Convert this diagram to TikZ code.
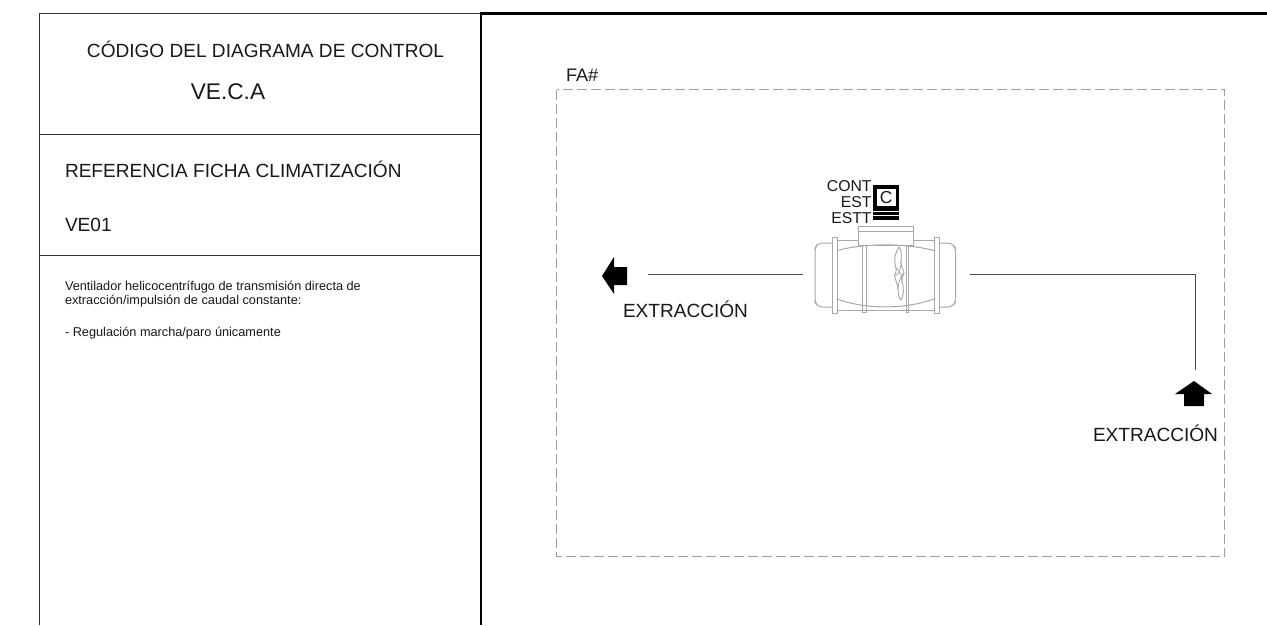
\documentclass[tikz,border=0pt]{standalone}
\usepackage{fontspec}
\setmainfont{Liberation Sans}
\definecolor{fanc}{gray}{0.66}
\definecolor{dashc}{gray}{0.62}
\tikzset{
  txt/.style={inner sep=0pt,outer sep=0pt,text=black!90},
  fs/.style={font=\fontsize{#1}{#1}\selectfont},
  thinl/.style={draw=black!80,line width=0.75pt},
  thickl/.style={draw=black,line width=2.2pt},
  conn/.style={draw=black!70,line width=0.75pt},
  fan/.style={draw=fanc,line width=0.75pt},
  solidarrow/.style={fill=black,draw=none}
}
\begin{document}
\begin{tikzpicture}[x=0.75pt,y=-0.75pt]
\useasboundingbox (0,0) rectangle (1267,625);
\fill[white] (0,0) rectangle (1267,625);
% panels
\draw[thinl] (39,625) -- (39,13.5) -- (481,13.5);
\draw[thinl] (39,134.5) -- (481,134.5);
\draw[thinl] (39,255.5) -- (481,255.5);
\draw[thickl] (481,625) -- (481,13.5) -- (1267,13.5);
% panel text
\node[txt,fs=14.3,anchor=base] (title) at (265.5,57) {CÓDIGO DEL DIAGRAMA DE CONTROL};
\node[txt,fs=17,anchor=base] (code) at (228,99.5) {VE.C.A};
\node[txt,fs=14.3,anchor=base west] (ref) at (65,177.7) {REFERENCIA FICHA CLIMATIZACIÓN};
\node[txt,fs=14.3,anchor=base west] (veo) at (65,231.7) {VE01};
\node[txt,fs=9.55,anchor=base west] (d1) at (65,290.5) {Ventilador helicocentrífugo de transmisión directa de};
\node[txt,fs=9.55,anchor=base west] (d2) at (65,304.5) {extracción/impulsión de caudal constante:};
\node[txt,fs=9.55,anchor=base west] (d3) at (65,336.5) {- Regulación marcha/paro únicamente};
% dashed zone
\draw[draw=dashc,line width=0.75pt,dash pattern=on 7.5pt off 3pt] (556.5,89.5) rectangle (1224.5,556.5);
\node[txt,fs=13.6,anchor=base west] (fa) at (566,81.5) {FA\#};
% fan drawing
\begin{scope}
\draw[fan,rounded corners=3pt] (832,243) -- (818,243) -- (815,248) -- (815,302) -- (818,307) -- (832,307);
\draw[fan,rounded corners=3pt] (939,243) -- (952,243) -- (955.5,248) -- (955.5,302) -- (952,307) -- (939,307);
\draw[fan] (837,250.5) .. controls (865,243) and (905,243) .. (934,250.5);
\draw[fan] (837,299) .. controls (865,309.5) and (905,309.5) .. (934,299);
\draw[fan] (837,240.7) -- (858,240.7);
\draw[fan] (913,240.7) -- (934,240.7);
\draw[fan] (837,310.5) -- (934,310.5);
\draw[fan] (832.5,237.5) rectangle (837,313);
\draw[fan] (934.5,237.5) rectangle (939,313);
\draw[fan] (862.5,245) rectangle (866,312);
\draw[fan] (906,245) rectangle (908.5,312);
\draw[fan] (858,226.5) rectangle (913,245);
\draw[fan,line width=0.5pt] (858,231) -- (913,231);
% blade
\draw[fan,line width=0.7pt] (899,247) .. controls (894,255) and (894,262) .. (896,268) .. controls (897,272) and (895,273) .. (894.5,275) .. controls (895,280) and (898,284) .. (898,290) .. controls (898,294) and (899,298) .. (901,300) .. controls (904,295) and (904,288) .. (902,282) .. controls (901,278) and (904,276) .. (904,272) .. controls (903,268) and (900,266) .. (901,260) .. controls (902,255) and (901,250) .. (899,247) -- cycle;
\draw[fan,line width=0.6pt] (896,268) .. controls (899,270) and (902,274) .. (902,282);
\draw[fan,line width=0.6pt] (894.5,275) .. controls (898,276) and (901,272) .. (901,260);
\draw[fan,line width=0.6pt] (898,290) .. controls (898,284) and (900,278) .. (904,272);
\end{scope}
\coordinate (fanL) at (803,274.5);
\coordinate (fanR) at (970,274.5);
% control icon
\fill[black] (873,185) rectangle (899,220);
\fill[white] (876.5,188.5) rectangle (895.5,206);
\draw[white,line width=0.3pt] (873,211) -- (899,211);
\draw[white,line width=0.3pt] (873,215) -- (899,215);
\node[txt,fs=13,anchor=center] (c) at (886,197.5) {C};
\node[txt,fs=11.8,anchor=base east] (cont) at (871.5,191.5) {CONT};
\node[txt,fs=11.8,anchor=base east] (est) at (871.5,207) {EST};
\node[txt,fs=11.8,anchor=base east] (estt) at (871.5,223) {ESTT};
% arrows
\fill[solidarrow] (602,276) -- (614,257) -- (614,267) -- (627,267) -- (627,285) -- (614,285) -- (614,294) -- cycle;
\fill[solidarrow] (1194,381) -- (1212,394) -- (1204,394) -- (1204,406) -- (1184,406) -- (1184,394) -- (1175,394) -- cycle;
\coordinate (arrL) at (648,274.5);
\coordinate (corner) at (1195,274.5);
\coordinate (arrU) at (1195,370);
\draw[conn] (arrL) -- (fanL);
\draw[conn] (fanR) -- (corner) -- (arrU);
\node[txt,fs=14.3,anchor=base west] (ex1) at (623,317.7) {EXTRACCIÓN};
\node[txt,fs=14.3,anchor=base west] (ex2) at (1093,441.7) {EXTRACCIÓN};
\end{tikzpicture}
\end{document}
